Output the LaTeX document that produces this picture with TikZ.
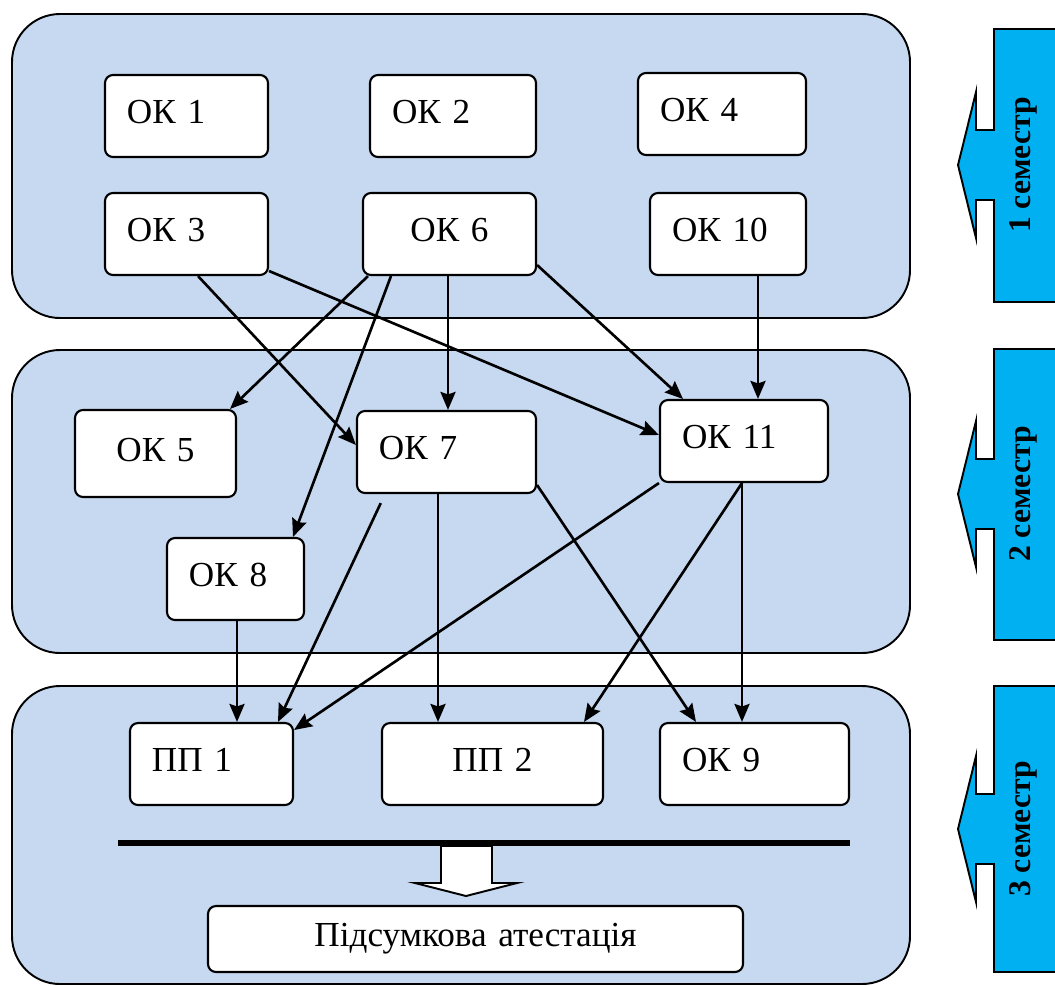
\documentclass[tikz,border=0pt]{standalone}
\usepackage{fontspec}
\setmainfont{Liberation Serif}
\usetikzlibrary{arrows.meta}

\definecolor{bandblue}{RGB}{198,217,240}
\definecolor{semcyan}{RGB}{0,176,240}

\tikzset{
  band/.style={draw, line width=1.1pt, fill=bandblue, rounded corners=0.96cm},
  okbox/.style={draw, line width=1.2pt, fill=white, rounded corners=0.16cm,
    minimum width=#1*0.02cm, text width=#1*0.02cm-0.88cm, minimum height=1.64cm,
    inner xsep=0.44cm, inner ysep=0pt, text depth=0.16cm, align=left,
    font=\fontsize{20}{24}\selectfont},
  midbox/.style={okbox=#1, align=center},
  arr/.style={-{Stealth[length=0.36cm,width=0.3cm,inset=0.05cm]}, line width=1.5pt},
  semarrow/.style={draw, line width=1.1pt, fill=semcyan},
}

\begin{document}
\begin{tikzpicture}[x=0.02cm, y=-0.02cm]

      \useasboundingbox (0,0) rectangle (1055,985);
      \clip (0,0) rectangle (1055,985);

      % semesters
      \draw[band] (12,14) rectangle (910,318);
      \draw[band] (12,350) rectangle (910,653);
      \draw[band] (12,686) rectangle (910,984);

      \foreach \cy/\ty/\by/\n in {165/29/302/1, 494/349/640/2, 829/686/972/3} {
        \draw[semarrow] (1070,\ty) -- (994,\ty) -- (994,\cy-35) -- (976,\cy-35)
          -- (976,\cy-73) -- (958,\cy) -- (976,\cy+73) -- (976,\cy+35)
          -- (994,\cy+35) -- (994,\by) -- (1070,\by) -- cycle;
        \node[rotate=90, font=\bfseries\fontsize{18}{20}\selectfont] (sem\n) at (1023,\cy) {\n{} семестр};
      }

      % 1 semester
      \node[okbox=163] (ok1) at (186.5,116) {ОК 1};
      \node[okbox=166] (ok2) at (453,116) {ОК 2};
      \node[okbox=168] (ok4) at (722,114) {ОК 4};
      \node[okbox=163] (ok3) at (186.5,234) {ОК 3};
      \node[midbox=173] (ok6) at (449.5,234) {ОК 6};
      \node[okbox=156] (ok10) at (728,234) {ОК 10};

      % 2 semester
      \node[midbox=161, minimum height=1.74cm] (ok5) at (155.5,453.5) {ОК 5};
      \node[okbox=179] (ok7) at (446.5,452) {ОК 7};
      \node[okbox=168] (ok11) at (744,441) {ОК 11};
      \node[okbox=137] (ok8) at (235.5,579) {ОК 8};

      % 3 semester
      \node[okbox=163] (pp1) at (211.5,764) {ПП 1};
      \node[midbox=221] (pp2) at (492.5,764) {ПП 2};
      \node[okbox=189] (ok9) at (754.5,764) {ОК 9};
      \node[midbox=535, minimum height=1.32cm] (final) at (475.5,939) {Підсумкова атестація};

      \coordinate (barL) at (118,843);
      \coordinate (barR) at (850,843);
      \draw[fill=white, line width=1.1pt] (441,846) -- (492,846) -- (492,883) -- (517,883)
        -- (466,896) -- (415,883) -- (441,883) -- cycle;
      \draw[line width=3.4pt] (barL) -- (barR);

      % links
      \draw[arr] (198,0 |- ok3.south) -- (ok7.west |- 0,445);
      \draw[arr] (ok3.east |- 0,271) -- (ok11.west |- 0,435);
      \draw[arr] (368,0 |- ok6.south) -- (230,0 |- ok5.north);
      \draw[arr] (391,0 |- ok6.south) -- (293,0 |- ok8.north);
      \draw[arr] (448,0 |- ok6.south) -- (448,0 |- ok7.north);
      \draw[arr] (ok6.east |- 0,265) -- (683,0 |- ok11.north);
      \draw[arr] (758,0 |- ok10.south) -- (758,0 |- ok11.north);
      \draw[arr, shorten <=0.2cm] (385,0 |- ok7.south) -- (278,0 |- pp1.north);
      \draw[arr] (438,0 |- ok7.south) -- (438,0 |- pp2.north);
      \draw[arr] (ok7.east |- 0,485) -- (696,0 |- ok9.north);
      \draw[arr] (ok11.south west) -- (pp1.east |- 0,730);
      \draw[arr] (742,0 |- ok11.south) -- (584,0 |- pp2.north);
      \draw[arr] (742,0 |- ok11.south) -- (742,0 |- ok9.north);
      \draw[arr] (237,0 |- ok8.south) -- (237,0 |- pp1.north);

\end{tikzpicture}
\end{document}
